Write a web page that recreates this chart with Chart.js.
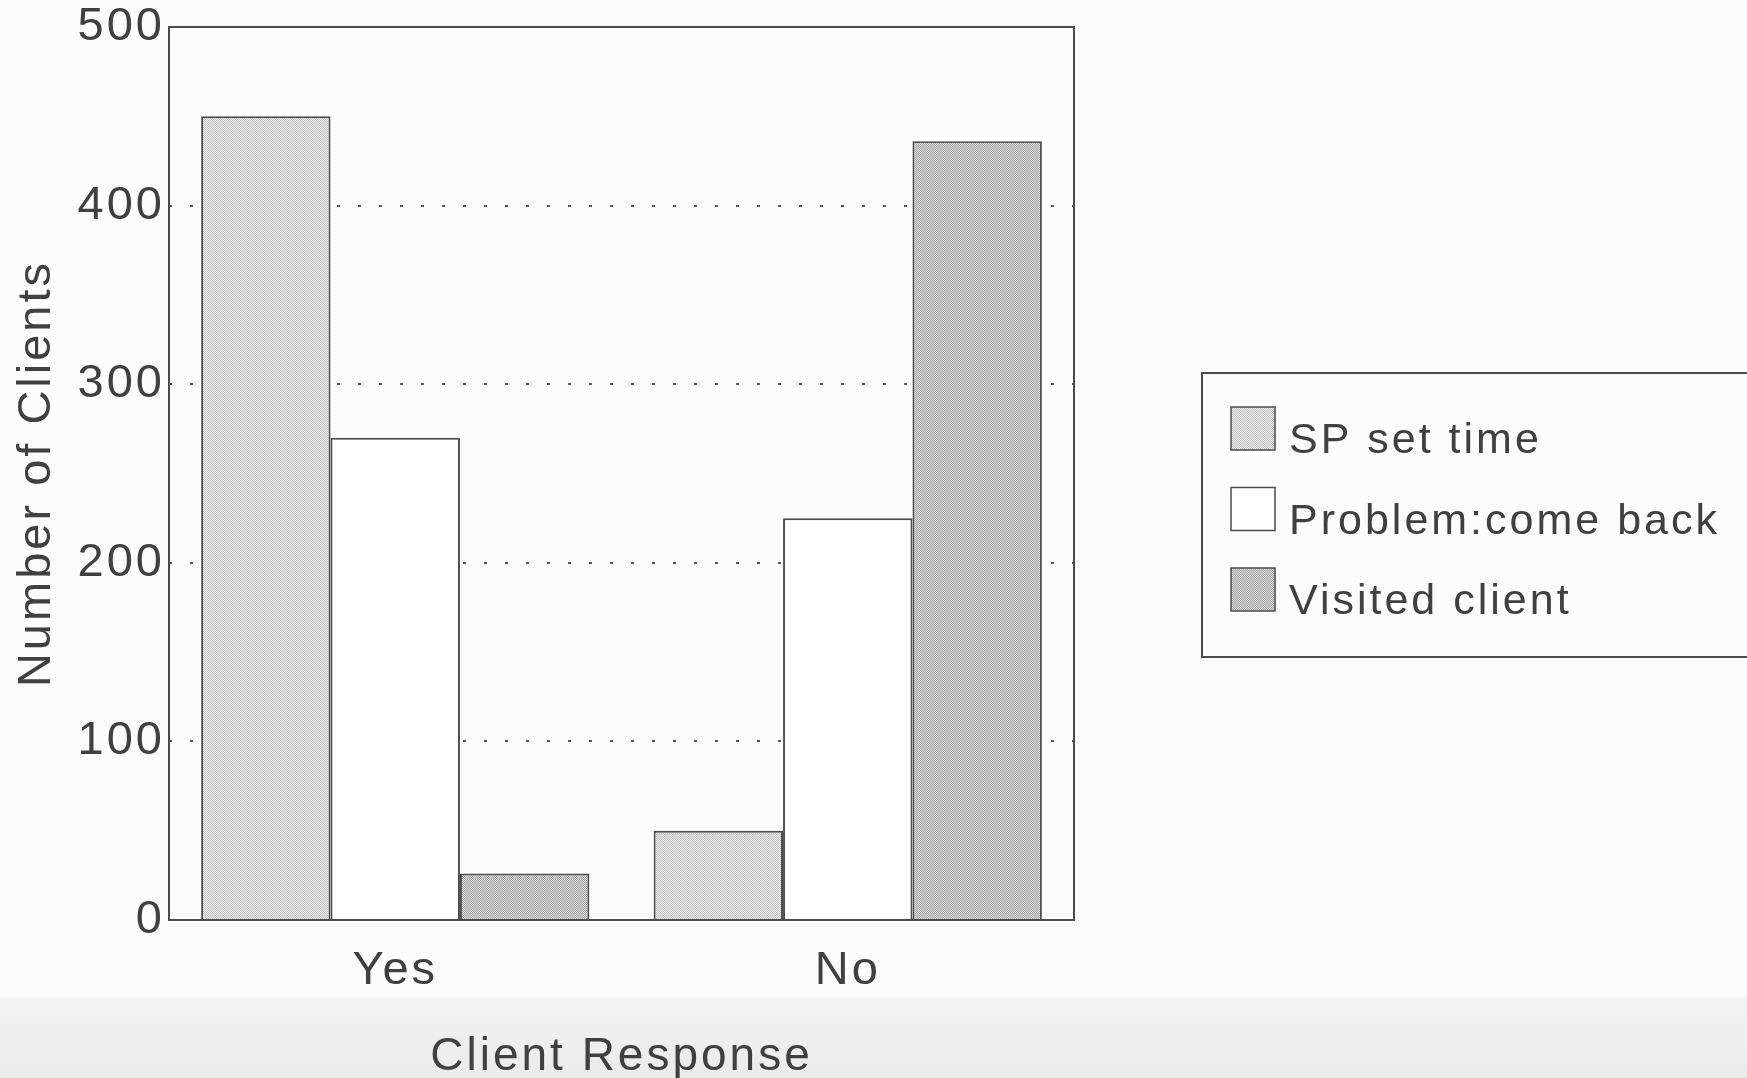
<!DOCTYPE html>
<html>
<head>
<meta charset="utf-8">
<title>Client Response</title>
<script src="https://cdn.jsdelivr.net/npm/chart.js@4.4.1/dist/chart.umd.min.js"></script>
<style>
  html, body { margin: 0; padding: 0; background: #fcfcfc; }
  #wrap {
    width: 1747px; height: 1078px;
    background: linear-gradient(to bottom, #fcfcfc 0px, #fcfcfc 995px, #f2f2f2 1000px, #ebebeb 1078px);
  }
</style>
</head>
<body>
<div id="wrap"><canvas id="responseChart" width="1747" height="1078"></canvas></div>
<script>
// values
var categories = ['Yes', 'No'];
var seriesNames = ['SP set time', 'Problem:come back', 'Visited client'];
var spSetTime = [450, 50];
var problemComeBack = [270, 225];
var visitedClient = [26, 436];
var yTicks = [0, 100, 200, 300, 400, 500];

var ink = '#404040';
var edge = '#4c4c4c';
var fam = '"Liberation Sans", Arial, sans-serif';

// stippled fills like the printed original
function stipple(light, dark) {
  var c = document.createElement('canvas');
  c.width = 2; c.height = 2;
  var x = c.getContext('2d');
  x.fillStyle = light; x.fillRect(0, 0, 2, 2);
  x.fillStyle = dark; x.fillRect(0, 0, 1, 1); x.fillRect(1, 1, 1, 1);
  return x.createPattern(c, 'repeat');
}
var fillSP = stipple('#eeeeee', '#c2c2c2');
var fillProblem = '#ffffff';
var fillVisited = stipple('#dedede', '#a2a2a2');

// the print is letter-spaced a bit
var spacing = {
  id: 'spacing',
  beforeLayout: function(chart) { chart.ctx.letterSpacing = '3px'; },
  beforeDraw: function(chart) { chart.ctx.letterSpacing = '3px'; }
};

// box round the plot
var frame = {
  id: 'frame',
  afterDatasetsDraw: function(chart) {
    var a = chart.chartArea, ctx = chart.ctx;
    ctx.save();
    ctx.strokeStyle = edge;
    ctx.lineWidth = 2;
    ctx.strokeRect(a.left, a.top, a.right - a.left, a.bottom - a.top);
    ctx.restore();
  }
};

// boxed legend to the right of the plot
var boxLegend = {
  id: 'boxLegend',
  afterDraw: function(chart) {
    var a = chart.chartArea, ctx = chart.ctx;
    var left = a.right + 128, top = 373;
    ctx.save();
    ctx.letterSpacing = '3px';
    ctx.strokeStyle = edge;
    ctx.lineWidth = 2;
    ctx.strokeRect(left, top, 600, 284);
    chart.data.datasets.forEach(function(ds, i) {
      var y = top + 34 + i * 80.5;
      ctx.fillStyle = ds.backgroundColor;
      ctx.fillRect(left + 29, y, 44, 43);
      ctx.strokeStyle = ds.borderColor;
      ctx.lineWidth = 1.5;
      ctx.strokeRect(left + 29, y, 44, 43);
      ctx.fillStyle = ink;
      ctx.font = '43px ' + fam;
      ctx.textBaseline = 'alphabetic';
      ctx.fillText(ds.label, left + 87, y + 46);
    });
    ctx.restore();
  }
};

var chartEl = document.getElementById('responseChart');
var responseChart = new Chart(chartEl, {
  type: 'bar',
  data: {
    labels: categories,
    datasets: [{
      label: seriesNames[0],
      data: spSetTime,
      backgroundColor: fillSP,
      borderColor: edge,
      borderWidth: 2
    }, {
      label: seriesNames[1],
      data: problemComeBack,
      backgroundColor: fillProblem,
      borderColor: edge,
      borderWidth: 2
    }, {
      label: seriesNames[2],
      data: visitedClient,
      backgroundColor: fillVisited,
      borderColor: edge,
      borderWidth: 2
    }]
  },
  options: {
    responsive: false,
    animation: false,
    devicePixelRatio: 1,
    barPercentage: 1,
    categoryPercentage: 0.858,
    layout: { padding: { top: 27, right: 673, left: 0, bottom: 0 } },
    plugins: {
      legend: { display: false },
      tooltip: { enabled: false }
    },
    scales: {
      x: {
        grid: { display: false, drawTicks: false },
        border: { display: false },
        ticks: { padding: 23, color: ink, font: { family: fam, size: 47 } },
        title: {
          display: true, text: 'Client Response', color: ink,
          font: { family: fam, size: 46 }, padding: { top: 0, bottom: -7 }
        },
        afterFit: function(s) {
          s.height = 158;
          s.paddingLeft = 0; s.paddingRight = 0;
        }
      },
      y: {
        min: 0,
        max: 500,
        afterBuildTicks: function(s) {
          s.ticks = yTicks.map(function(v) { return { value: v }; });
        },
        grid: {
          drawTicks: false,
          lineWidth: 2,
          color: function(c) {
            if (!c.tick || c.tick.value === 0 || c.tick.value === 500) return 'rgba(0,0,0,0)';
            return '#555555';
          }
        },
        border: { display: false, dash: [3, 18] },
        ticks: { padding: 4, color: ink, font: { family: fam, size: 47 } },
        title: {
          display: true, text: 'Number of Clients', color: ink,
          font: { family: fam, size: 47 }, padding: { top: 9, bottom: 0 }
        },
        afterFit: function(s) {
          s.width = 169;
          s.paddingTop = 0; s.paddingBottom = 0;
        }
      }
    }
  },
  plugins: [spacing, frame, boxLegend]
});
</script>
</body>
</html>
